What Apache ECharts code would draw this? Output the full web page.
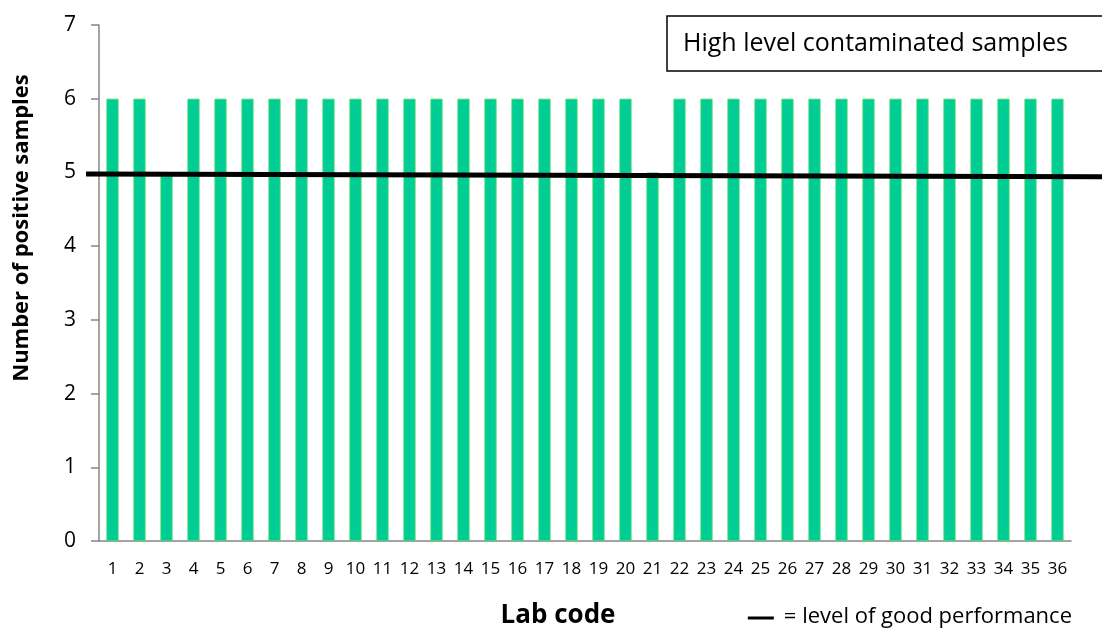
<!DOCTYPE html>
<html><head><meta charset="utf-8">
<script src="https://cdn.jsdelivr.net/npm/echarts@6/dist/echarts.min.js"></script>
<style>html,body{margin:0;padding:0;background:#fff}#c{width:1102px;height:633px}</style>
</head><body><div id="c"></div>
<script>
const labCodes = ['1','2','3','4','5','6','7','8','9','10','11','12','13','14','15','16','17','18','19','20','21','22','23','24','25','26','27','28','29','30','31','32','33','34','35','36'];
const positives = [6,6,5,6,6,6,6,6,6,6,6,6,6,6,6,6,6,6,6,6,5,6,6,6,6,6,6,6,6,6,6,6,6,6,6,6];
const goodLevelLine = [[0,4.98],[1,4.94]];
const yTicks = [0,1,2,3,4,5,6,7];

const FONT = '"Open Sans", sans-serif';
const legendText = '= level of good performance';
const legendFont = '22px "Open Sans", sans-serif';
const mctx = document.createElement('canvas').getContext('2d');
mctx.font = legendFont;
const legendW = mctx.measureText(legendText).width;
const legendEnd = 1072;
const legendStart = legendEnd - legendW;

const chart = echarts.init(document.getElementById('c'));
chart.setOption({
  animation:false,
  grid:[
    {left:99,right:31,top:25,bottom:92},
    {left:86,right:0,top:25,bottom:92}
  ],
  xAxis:[
    {type:'category',gridIndex:0,data:labCodes,
     axisLine:{lineStyle:{color:'#868686',width:1.5}},
     axisTick:{length:6,lineStyle:{color:'#868686',width:1.5}},
     axisLabel:{color:'#000',fontFamily:FONT,fontSize:17,margin:20}},
    {type:'value',gridIndex:1,min:0,max:1,show:false}
  ],
  yAxis:[
    {type:'value',gridIndex:0,min:0,max:7,interval:1,
     axisLine:{show:true,lineStyle:{color:'#868686',width:1.5}},
     axisTick:{show:true,length:8,lineStyle:{color:'#868686',width:1.5}},
     axisLabel:{color:'#000',fontFamily:FONT,fontSize:21,margin:23},
     splitLine:{show:false}},
    {type:'value',gridIndex:1,min:0,max:7,show:false}
  ],
  series:[
    {type:'bar',xAxisIndex:0,yAxisIndex:0,data:positives,barWidth:'45%',
     itemStyle:{color:'#00CC96',borderColor:'#3ADB6E',borderWidth:1}},
    {type:'line',xAxisIndex:1,yAxisIndex:1,data:goodLevelLine,symbol:'none',
     lineStyle:{color:'#000',width:5},z:5}
  ],
  graphic:[
    {type:'rect',shape:{x:667,y:16,width:440,height:55},style:{fill:'#fff',stroke:'#000',lineWidth:1.5}},
    {type:'text',x:683,y:44,style:{text:'High level contaminated samples',fill:'#000',font:'25px "Open Sans", sans-serif',textVerticalAlign:'middle'}},
    {type:'text',x:22,y:228,rotation:Math.PI/2,style:{text:'Number of positive samples',fill:'#000',font:'bold 22px "Open Sans", sans-serif',textAlign:'center',textVerticalAlign:'middle'}},
    {type:'text',x:558,y:616,style:{text:'Lab code',fill:'#000',font:'bold 26px "Open Sans", sans-serif',textAlign:'center',textVerticalAlign:'middle'}},
    {type:'line',shape:{x1:legendStart-36,y1:618,x2:legendStart-10,y2:618},style:{stroke:'#000',lineWidth:3}},
    {type:'text',x:legendEnd,y:617,style:{text:legendText,fill:'#000',font:legendFont,textAlign:'right',textVerticalAlign:'middle'}}
  ]
});
</script></body></html>
